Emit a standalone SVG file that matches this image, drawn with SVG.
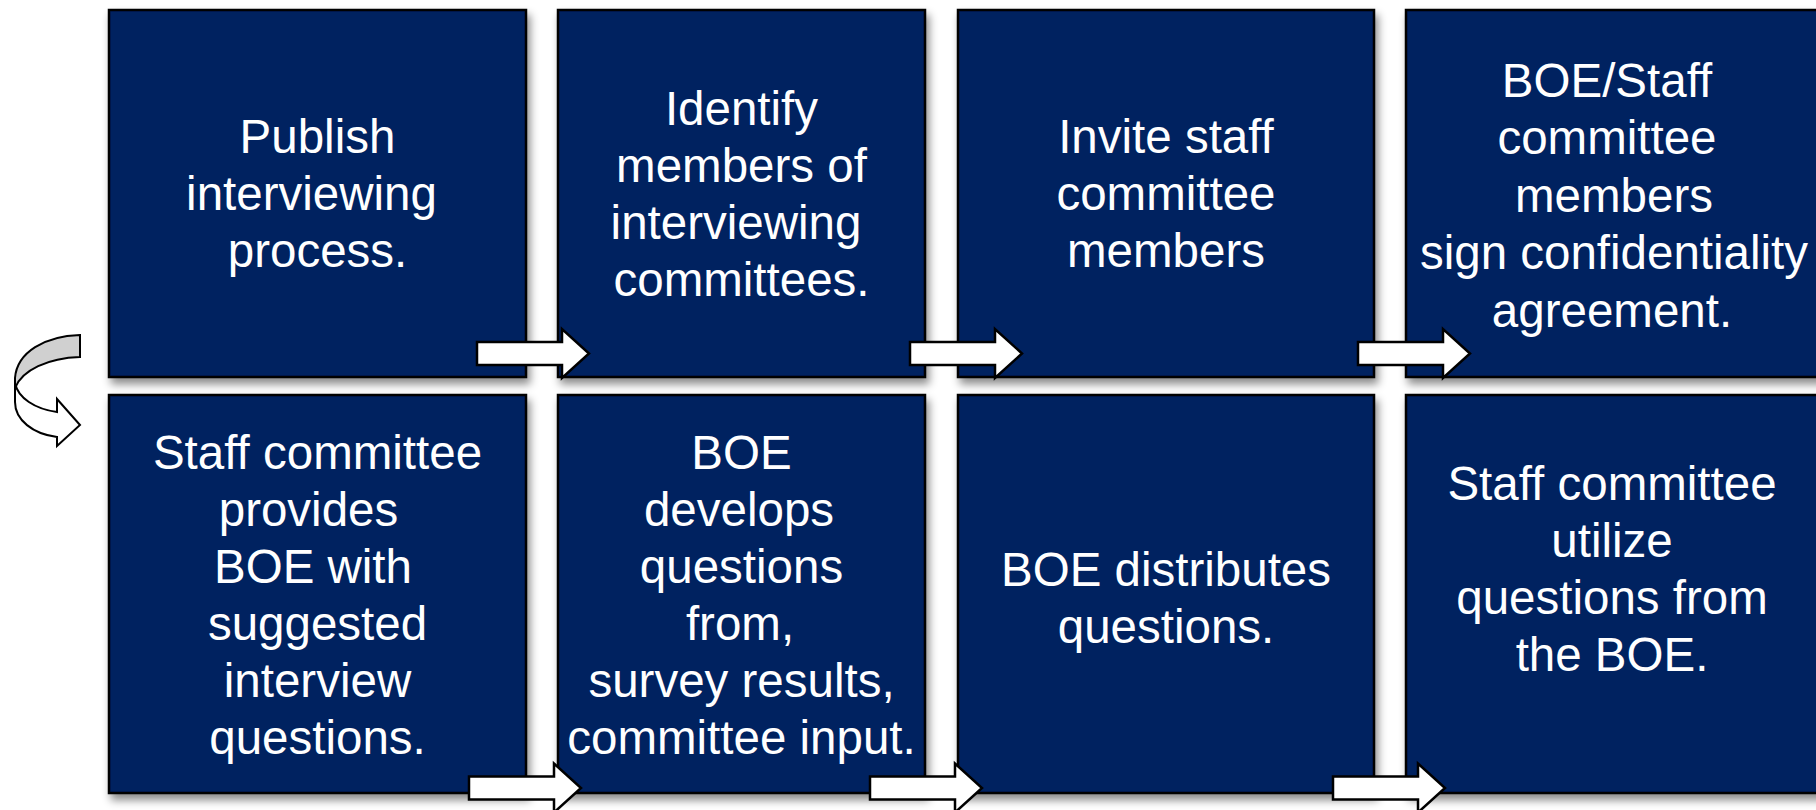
<svg xmlns="http://www.w3.org/2000/svg" xmlns:xlink="http://www.w3.org/1999/xlink" width="1816" height="810" viewBox="0 0 1816 810">
<defs>
<filter id="sh" x="-5%" y="-5%" width="115%" height="120%">
<feDropShadow dx="3" dy="6" stdDeviation="4" flood-color="#000" flood-opacity="0.45"/>
</filter>
<path id="arr" d="M0,-11.5 H85 V-24.5 L112,0 L85,24.5 V11.5 H0 Z"/>
</defs>
<style>
.box{fill:#002060;stroke:#000;stroke-width:2.5;filter:url(#sh)}
.t{font-family:"Liberation Sans",Arial,sans-serif;font-size:47.5px;fill:#fff;text-anchor:middle}
.a{fill:#fff;stroke:#000;stroke-width:2.5;stroke-linejoin:miter}
</style>
<rect width="1816" height="810" fill="#fff"/>
<g id="n1"><rect class="box" x="109" y="10" width="417" height="367"/>
<text class="t"><tspan x="317.5" y="153">Publish</tspan><tspan x="311.5" y="210">interviewing</tspan><tspan x="317.5" y="267">process.</tspan></text></g>
<g id="n2"><rect class="box" x="558" y="10" width="367" height="367"/>
<text class="t"><tspan x="741.5" y="125">Identify</tspan><tspan x="741.5" y="182">members of</tspan><tspan x="736" y="239">interviewing</tspan><tspan x="741.5" y="296">committees.</tspan></text></g>
<g id="n3"><rect class="box" x="958" y="10" width="416" height="367"/>
<text class="t"><tspan x="1166" y="153">Invite staff</tspan><tspan x="1166" y="210">committee</tspan><tspan x="1166" y="267">members</tspan></text></g>
<g id="n4"><rect class="box" x="1406" y="10" width="430" height="367"/>
<text class="t"><tspan x="1607" y="97">BOE/Staff</tspan><tspan x="1607" y="154">committee</tspan><tspan x="1614" y="212">members</tspan><tspan x="1614" y="269">sign confidentiality</tspan><tspan x="1612" y="327">agreement.</tspan></text></g>
<g id="n5"><rect class="box" x="109" y="395" width="417" height="398"/>
<text class="t"><tspan x="317.5" y="469">Staff committee</tspan><tspan x="308.5" y="526">provides</tspan><tspan x="313" y="583">BOE with</tspan><tspan x="317.5" y="640">suggested</tspan><tspan x="317.5" y="697">interview</tspan><tspan x="317.5" y="754">questions.</tspan></text></g>
<g id="n6"><rect class="box" x="558" y="395" width="367" height="398"/>
<text class="t"><tspan x="741.5" y="469">BOE</tspan><tspan x="739" y="526">develops</tspan><tspan x="741.5" y="583">questions</tspan><tspan x="740" y="640">from,</tspan><tspan x="741.5" y="697">survey results,</tspan><tspan x="741.5" y="754">committee input.</tspan></text></g>
<g id="n7"><rect class="box" x="958" y="395" width="416" height="398"/>
<text class="t"><tspan x="1166" y="586">BOE distributes</tspan><tspan x="1166" y="643">questions.</tspan></text></g>
<g id="n8"><rect class="box" x="1406" y="395" width="430" height="398"/>
<text class="t"><tspan x="1612" y="500">Staff committee</tspan><tspan x="1612" y="557">utilize</tspan><tspan x="1612" y="614">questions from</tspan><tspan x="1612" y="671">the BOE.</tspan></text></g>
<g id="connectors">
<use href="#arr" class="a" transform="translate(477,353.5)"/>
<use href="#arr" class="a" transform="translate(910,353.5)"/>
<use href="#arr" class="a" transform="translate(1358,353.5)"/>
<use href="#arr" class="a" transform="translate(469,788)"/>
<use href="#arr" class="a" transform="translate(870,788)"/>
<use href="#arr" class="a" transform="translate(1333,788)"/>
<g id="loop" stroke="#000" stroke-width="2" stroke-linejoin="miter">
<path d="M15,392 L15,402 C15,420 33,434 57,437 L57,446 L80,425 L57,399 L57,412 C35,409 18,398 15,383 Z" fill="#fff"/>
<path d="M80,335 L80,357 C48,358 22,370 15,388 L15,378 C17,352 45,336 80,335 Z" fill="#d0d0d0"/>
</g>
</g>
</svg>
